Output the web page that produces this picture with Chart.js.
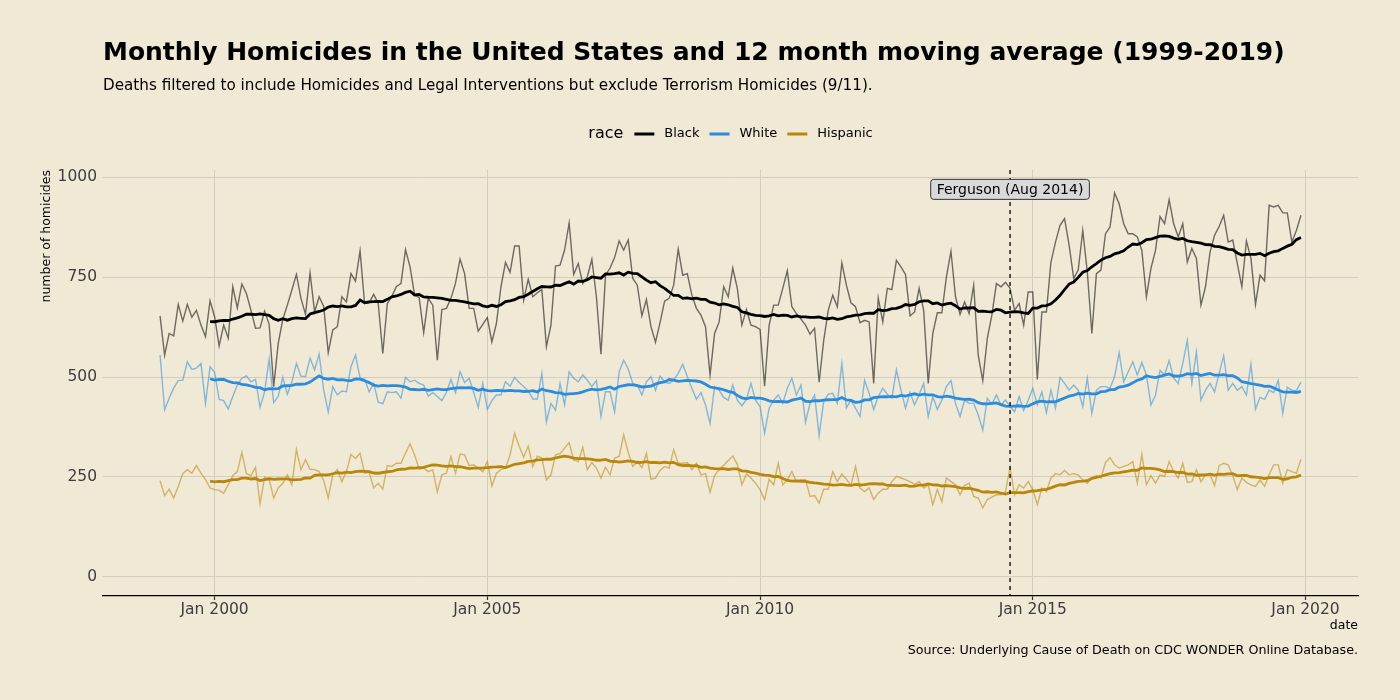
<!DOCTYPE html>
<html>
<head>
<meta charset="utf-8">
<title>Monthly Homicides</title>
<script src="https://cdn.jsdelivr.net/npm/chart.js@4.4.1/dist/chart.umd.min.js"></script>
<style>
  html, body { margin: 0; padding: 0; background: #f0e9d6; }
  canvas { display: block; }
</style>
</head>
<body>
<canvas id="chart" width="1400" height="700"></canvas>
<script>
// monthly counts, Jan 1999 .. Dec 2019 (one row per year)
const startYear = 1999;
const black = [
  653,555,609,603,682,640,682,650,667,630,601,691,
  651,578,630,597,726,673,733,709,667,622,623,665,
  632,476,584,644,680,718,757,697,657,761,663,701,
  677,561,618,626,701,688,759,740,816,684,686,707,
  684,559,684,702,727,734,819,776,705,699,611,697,
  680,542,669,672,697,735,795,759,672,672,615,632,
  649,588,634,726,787,762,828,828,692,745,701,711,
  719,576,630,778,780,818,886,757,784,734,751,795,
  701,557,755,773,799,841,818,843,747,730,653,694,
  626,587,636,690,697,730,820,755,759,705,672,655,
  626,505,609,638,726,701,773,722,630,669,630,626,
  619,477,630,680,680,722,766,676,659,645,630,607,
  622,487,591,667,705,676,786,730,686,676,636,642,
  638,484,698,638,722,719,792,776,757,653,663,722,
  667,484,609,661,661,751,815,701,657,688,659,730,
  555,491,597,655,734,726,737,722,667,684,630,713,
  713,494,663,663,788,838,880,897,830,747,768,867,
  763,609,759,768,859,876,961,934,884,859,859,851,
  817,701,772,817,902,884,944,884,851,884,788,822,
  797,680,726,813,855,877,905,838,843,784,726,841,
  797,682,755,741,930,926,930,911,911,838,867,905
];
const white = [
  555,418,447,472,491,492,538,519,522,534,434,526,
  512,444,441,420,451,480,497,503,488,494,424,463,
  545,436,452,499,457,488,534,502,501,547,518,557,
  467,412,476,455,465,463,526,555,497,495,463,484,
  437,433,463,461,463,447,499,488,492,484,480,452,
  461,451,441,461,494,461,513,486,497,461,424,484,
  419,441,455,455,488,477,499,486,476,465,445,445,
  509,388,434,417,484,430,513,497,488,505,492,476,
  491,401,463,463,413,513,542,520,484,480,455,488,
  501,467,502,488,484,492,509,532,501,472,444,461,
  430,384,476,467,449,442,480,442,428,444,484,442,
  426,359,422,442,455,434,472,497,455,480,387,434,
  455,353,438,457,459,434,534,423,442,422,401,492,
  459,419,451,472,457,447,518,467,422,461,430,456,
  484,401,451,419,442,476,491,434,401,442,434,434,
  405,367,447,432,455,430,442,426,413,451,416,442,
  472,430,463,411,467,422,499,484,467,480,467,426,
  497,409,467,476,476,472,501,561,488,513,538,505,
  536,505,430,455,517,505,541,497,484,534,591,484,
  563,442,467,484,463,509,553,467,484,467,476,455,
  532,419,449,444,467,461,491,409,474,467,466,487
];
const hispanic = [
  240,203,219,197,226,258,268,259,278,259,243,222,
  218,216,209,230,253,263,311,258,253,274,182,249,
  243,197,222,234,255,230,319,268,293,269,268,263,
  241,197,255,268,238,263,306,296,309,259,261,222,
  234,219,278,276,284,284,309,333,305,269,272,263,
  268,212,255,259,301,259,307,305,278,280,272,263,
  288,227,259,268,272,305,359,327,299,327,276,302,
  297,242,255,305,308,322,336,292,288,324,268,286,
  272,247,274,255,297,301,355,311,276,288,273,309,
  244,247,266,276,272,318,284,284,286,268,284,255,
  258,211,253,268,279,291,302,282,230,257,247,234,
  218,193,244,230,284,230,243,263,238,243,243,201,
  203,184,219,219,263,238,257,244,228,276,222,213,
  222,193,209,219,219,238,251,247,243,238,231,238,
  222,230,180,218,188,247,238,230,205,228,234,201,
  197,172,193,199,205,205,213,274,205,230,222,238,
  218,180,222,213,247,258,255,266,255,258,255,242,
  234,247,253,247,286,298,280,272,276,280,288,234,
  307,230,253,234,255,251,288,263,247,284,236,238,
  268,238,255,255,228,278,284,280,253,218,247,236,
  230,226,242,226,255,280,280,234,268,263,259,294
];
const races = ['Black', 'White', 'Hispanic'];
const xTicks = [2000, 2005, 2010, 2015, 2020];
const yTicks = [0, 250, 500, 750, 1000];
const eventMonth = 2014 + 7 / 12;   // Aug 2014
const eventLabel = 'Ferguson (Aug 2014)';
const eventLabelY = 970;

const colors = { Black: '#000000', White: '#2b8cdb', Hispanic: '#b8860b' };
const rawColors = { Black: 'rgba(0,0,0,0.55)', White: 'rgba(43,140,219,0.55)', Hispanic: 'rgba(184,134,11,0.55)' };
const bg = '#f0e9d6';
const gridColor = '#d3cdbf';
const tickText = '#3d3d3d';
const FONT = "'DejaVu Sans', sans-serif";

const months = black.map((_, i) => startYear + i / 12);

function series(vals){
  return vals.map((v, i) => ({x: months[i], y: v}));
}
// trailing 12 month mean, first value at month 12
function rolling(vals){
  const out = [];
  for(let i = 11; i < vals.length; i++){
    let s = 0;
    for(let j = i - 11; j <= i; j++) s += vals[j];
    out.push({x: months[i], y: s / 12});
  }
  return out;
}

const values = { Black: black, White: white, Hispanic: hispanic };
const datasets = [];
races.forEach(r => {
  datasets.push({label: r + ' avg', data: rolling(values[r]), borderColor: colors[r],
    borderWidth: 2.8, pointRadius: 0, tension: 0, order: 0});
});
races.forEach(r => {
  datasets.push({label: r, data: series(values[r]), borderColor: rawColors[r],
    borderWidth: 1.4, pointRadius: 0, tension: 0, order: 1});
});

const decor = {
  id: 'decor',
  beforeDraw(chart){
    const c = chart.ctx;
    c.save();
    c.fillStyle = bg;
    c.fillRect(0, 0, chart.width, chart.height);
    c.restore();
  },
  afterDatasetsDraw(chart){
    const c = chart.ctx, a = chart.chartArea;
    const px = chart.scales.x.getPixelForValue(eventMonth);
    c.save();
    c.strokeStyle = '#000';
    c.lineWidth = 1.3;
    c.setLineDash([4, 4]);
    c.beginPath();
    c.moveTo(px, a.top);
    c.lineTo(px, a.bottom);
    c.stroke();
    c.setLineDash([]);
    // label box
    c.font = '14px ' + FONT;
    const w = c.measureText(eventLabel).width + 12;
    const h = 20;
    const py = chart.scales.y.getPixelForValue(eventLabelY);
    c.fillStyle = '#d9d9d9';
    c.strokeStyle = '#333';
    c.lineWidth = 1;
    c.beginPath();
    c.roundRect(px - w / 2, py - h / 2, w, h, 3);
    c.fill();
    c.stroke();
    c.fillStyle = '#000';
    c.textAlign = 'center';
    c.textBaseline = 'middle';
    c.fillText(eventLabel, px, py + 0.5);
    c.restore();
  },
  afterDraw(chart){
    const c = chart.ctx, a = chart.chartArea;
    c.save();
    c.fillStyle = '#000';
    c.textBaseline = 'alphabetic';
    c.textAlign = 'left';
    c.font = 'bold 25px ' + FONT;
    c.fillText('Monthly Homicides in the United States and 12 month moving average (1999-2019)', a.left, 59.5);
    c.font = '15.2px ' + FONT;
    c.fillText('Deaths filtered to include Homicides and Legal Interventions but exclude Terrorism Homicides (9/11).', a.left, 90);

    // legend
    const midY = 134;
    c.textBaseline = 'middle';
    c.font = '16px ' + FONT;
    const titleW = c.measureText('race').width;
    c.font = '13px ' + FONT;
    const keyW = 20, gapA = 10, gapB = 10;
    let total = titleW + 11;
    races.forEach((r, k) => { total += keyW + gapA + c.measureText(r).width + (k < races.length - 1 ? gapB : 0); });
    let x = (a.left + a.right) / 2 - total / 2;
    c.font = '16px ' + FONT;
    c.fillText('race', x, midY);
    x += titleW + 11;
    c.font = '13px ' + FONT;
    races.forEach(r => {
      c.strokeStyle = colors[r];
      c.lineWidth = 3;
      c.beginPath();
      c.moveTo(x, midY);
      c.lineTo(x + keyW, midY);
      c.stroke();
      x += keyW + gapA;
      c.fillStyle = '#000';
      c.fillText(r, x, midY);
      x += c.measureText(r).width + gapB;
    });

    // axis titles and caption
    c.font = '12.5px ' + FONT;
    c.textAlign = 'right';
    c.fillText('date', a.right, 626);
    c.font = '12.7px ' + FONT;
    c.fillText('Source: Underlying Cause of Death on CDC WONDER Online Database.', a.right, 651);
    c.translate(47, a.top);
    c.rotate(-Math.PI / 2);
    c.font = '12.5px ' + FONT;
    c.textAlign = 'right';
    c.fillText('number of homicides', 0, 0);
    c.restore();
  }
};

new Chart(document.getElementById('chart'), {
  type: 'line',
  data: { datasets },
  options: {
    responsive: false,
    animation: false,
    devicePixelRatio: 1,
    layout: { padding: { left: 0, right: 42, top: 170, bottom: 0 } },
    plugins: { legend: { display: false }, title: { display: false }, tooltip: { enabled: false } },
    scales: {
      x: {
        type: 'linear',
        min: startYear - 1.046,
        max: 2019 + 11 / 12 + 1.046,
        afterBuildTicks: s => { s.ticks = xTicks.map(v => ({value: v})); },
        afterFit: s => { s.height = 104; },
        grid: { color: gridColor, lineWidth: 1, tickLength: 4, tickColor: '#333', tickWidth: 1.2 },
        border: { display: true, color: '#000', width: 1.3 },
        ticks: { color: tickText, font: { family: FONT, size: 15.5 }, padding: 1, maxRotation: 0,
                 autoSkip: false, callback: v => 'Jan ' + v }
      },
      y: {
        min: -48.5,
        max: 1018.5,
        afterBuildTicks: s => { s.ticks = yTicks.map(v => ({value: v})); },
        afterFit: s => { s.width = 103; },
        grid: { color: gridColor, lineWidth: 1, drawTicks: false },
        border: { display: false },
        ticks: { color: tickText, font: { family: FONT, size: 15.5 }, padding: 6, callback: v => String(v) }
      }
    }
  },
  plugins: [decor]
});
</script>
</body>
</html>
